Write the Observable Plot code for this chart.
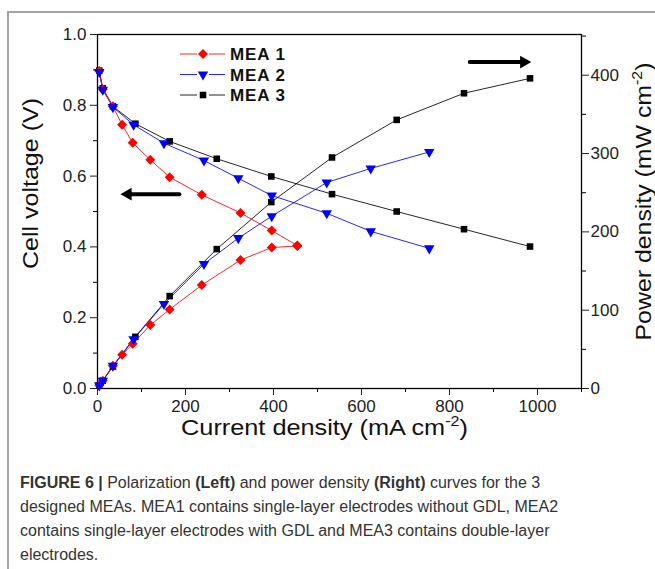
<!DOCTYPE html>
<html><head><meta charset="utf-8">
<script src="https://cdn.jsdelivr.net/npm/d3@7"></script>
<script src="https://cdn.jsdelivr.net/npm/@observablehq/plot@0.6"></script>
<style>
body{margin:0;background:#fff;font-family:"Liberation Sans",Arial,sans-serif;}
#wrap{position:relative;width:655px;height:569px;overflow:hidden;background:#fff;}
#border{position:absolute;left:7px;top:11px;width:700px;height:600px;border-left:2px solid #a3a3a3;border-top:2px solid #a3a3a3;}
#chart{position:absolute;left:0;top:0;}
#caption{position:absolute;left:20px;top:471px;font-size:16px;line-height:24px;color:#333;white-space:nowrap;}
</style></head>
<body><div id="wrap"><div id="border"></div><div id="chart"></div>
<div id="caption"><b>FIGURE 6 |</b> Polarization <b>(Left)</b> and power density <b>(Right)</b> curves for the 3<br>designed MEAs. MEA1 contains single-layer electrodes without GDL, MEA2<br>contains single-layer electrodes with GDL and MEA3 contains double-layer<br>electrodes.</div>
</div>
<script>
// ---- data ----
const series = ["MEA 1", "MEA 2", "MEA 3"];
const colors = ["#ff0000", "#0000ff", "#000000"];
const symbols = ["diamond2", "triangle", "square"];
const current1 = [4, 12, 35, 56, 80, 120, 164, 237, 325, 396, 454];
const voltage1 = [0.897, 0.845, 0.797, 0.745, 0.694, 0.646, 0.597, 0.547, 0.496, 0.446, 0.404];
const power1   = [4, 10, 29, 43, 57, 81, 101, 132, 164, 180, 182];
const current2 = [4, 12, 35, 82, 151, 242, 320, 396, 521, 621, 754];
const voltage2 = [0.894, 0.844, 0.795, 0.745, 0.693, 0.644, 0.594, 0.545, 0.495, 0.444, 0.396];
const power2   = [4, 10, 29, 63, 108, 159, 192, 220, 263, 281, 302];
const current3 = [4, 12, 35, 86, 164, 271, 395, 533, 680, 833, 983];
const voltage3 = [0.898, 0.848, 0.797, 0.748, 0.698, 0.649, 0.599, 0.549, 0.500, 0.450, 0.401];
const power3   = [4, 10, 28, 66, 118, 178, 238, 295, 343, 377, 396];
const xTicks = [0, 200, 400, 600, 800, 1000];
const xMinor = [100, 300, 500, 700, 900, 1100];
const vTicks = [0, 0.2, 0.4, 0.6, 0.8, 1.0];
const vMinor = [0.1, 0.3, 0.5, 0.7, 0.9];
const pTicks = [0, 100, 200, 300, 400];
const pMinor = [50, 150, 250, 350, 450];
const PMAX = 452;
const arrowLeft = [{tail: 186, head: 52, v: 0.549}];
const arrowRight = [{tail: 846, head: 986, v: 0.922}];
const xLabel = "Current density (mA cm-2)";
const yLabel = "Cell voltage (V)";
const y2Label = "Power density (mW cm-2)";

const cur = [current1, current2, current3], vol = [voltage1, voltage2, voltage3], pow = [power1, power2, power3];
const rows = series.map((s, i) => cur[i].map((c, j) => ({s, I: c, V: vol[i][j], P: pow[i][j]})));
const radius = [4.5, 3.9, 3.7];
const rot = [0, 180, 0];

const marks = [
  Plot.axisX(xTicks, {tickSize: 7, tickPadding: 4, fontSize: 17, tickFormat: d => String(d), label: null, color: "#222"}),
  Plot.axisX(xMinor, {tickSize: 4, tickFormat: () => "", label: null}),
  Plot.axisY(vTicks, {tickSize: 7, tickPadding: 4, fontSize: 17, tickFormat: d3.format(".1f"), label: null, color: "#222"}),
  Plot.axisY(vMinor, {tickSize: 4, tickFormat: () => "", label: null}),
  Plot.axisY(pTicks, {anchor: "right", y: d => d / PMAX, tickFormat: d => String(d), tickSize: 7, tickPadding: 2, fontSize: 17, label: null, color: "#222"}),
  Plot.axisY(pMinor, {anchor: "right", y: d => d / PMAX, tickFormat: () => "", tickSize: 4, label: null}),
  Plot.frame({stroke: "#000", strokeWidth: 1.3})
];
[2, 1, 0].forEach(i => {
  marks.push(Plot.line(rows[i], {x: "I", y: "V", stroke: colors[i], strokeWidth: 1, strokeOpacity: 0.85}));
  marks.push(Plot.line(rows[i], {x: "I", y: d => d.P / PMAX, stroke: colors[i], strokeWidth: 1, strokeOpacity: 0.85}));
});
[2, 0, 1].forEach(i => {
  marks.push(Plot.dot(rows[i], {x: "I", y: "V", symbol: symbols[i], r: radius[i], rotate: rot[i], fill: colors[i], stroke: "none"}));
  marks.push(Plot.dot(rows[i], {x: "I", y: d => d.P / PMAX, symbol: symbols[i], r: radius[i], rotate: rot[i], fill: colors[i], stroke: "none"}));
});
marks.push(
  Plot.arrow(arrowLeft, {x1: "tail", x2: "head", y1: "v", y2: "v", stroke: "#000", strokeWidth: 4, headLength: 0, insetEnd: 7}),
  Plot.dot(arrowLeft, {x: "head", y: "v", symbol: "triangle", rotate: -90, r: 4.8, fill: "#000", dx: 7.5}),
  Plot.arrow(arrowRight, {x1: "tail", x2: "head", y1: "v", y2: "v", stroke: "#000", strokeWidth: 4, headLength: 0, insetEnd: 7}),
  Plot.dot(arrowRight, {x: "head", y: "v", symbol: "triangle", rotate: 90, r: 4.8, fill: "#000", dx: -7.5}),
  Plot.text([yLabel], {text: d => d, frameAnchor: "left", textAnchor: "middle", lineAnchor: "middle", dx: -67, dy: -28, rotate: -90, fontSize: 22, fill: "#111"}),
  Plot.text([y2Label], {text: d => d, frameAnchor: "right", textAnchor: "middle", lineAnchor: "middle", dx: 62, dy: -10, rotate: -90, fontSize: 22, fill: "#111"}),
  Plot.text([xLabel], {text: d => d, frameAnchor: "bottom", textAnchor: "middle", lineAnchor: "middle", dx: -15, dy: 39, fontSize: 22, fill: "#111"})
);

const chart = Plot.plot({
  width: 655, height: 440,
  marginLeft: 97, marginRight: 74, marginTop: 34, marginBottom: 52,
  x: {domain: [0, 1100]},
  y: {domain: [0, 1]},
  style: {fontFamily: "'Liberation Sans', Arial, sans-serif", background: "transparent", overflow: "visible", color: "#000"},
  marks
});
document.getElementById("chart").appendChild(chart);

// superscripts and label lengths (stretch along the text direction)
const labelLen = {[yLabel]: 171, [xLabel]: 287, [y2Label]: 278};
chart.querySelectorAll("text").forEach(t => {
  const s = t.textContent;
  if (!(s in labelLen)) return;
  if (s.endsWith("cm-2)")) {
    t.textContent = "";
    const ns = "http://www.w3.org/2000/svg";
    const a = document.createElementNS(ns, "tspan"); a.textContent = s.slice(0, -3);
    const b = document.createElementNS(ns, "tspan"); b.textContent = "-2"; b.setAttribute("font-size", "14"); b.setAttribute("dy", "-9");
    const c = document.createElementNS(ns, "tspan"); c.textContent = ")"; c.setAttribute("dy", "9");
    t.append(a, b, c);
  }
  const len = t.getComputedTextLength();
  const sx = labelLen[s] / len;
  const tr = t.getAttribute("transform");
  if (tr) t.setAttribute("transform", `${tr} scale(${sx},1)`);
  else { t.setAttribute("textLength", labelLen[s]); t.setAttribute("lengthAdjust", "spacingAndGlyphs"); }
});

// legend
const lg = d3.select("#wrap").append("svg").attr("width", 655).attr("height", 120)
  .style("position", "absolute").style("left", "0px").style("top", "0px");
const d3sym = {diamond2: d3.symbolDiamond2, triangle: d3.symbolTriangle, square: d3.symbolSquare};
series.forEach((s, i) => {
  const y = 54 + i * 20.5;
  const g = lg.append("g");
  g.append("line").attr("x1", 180).attr("x2", 197).attr("y1", y).attr("y2", y).attr("stroke", colors[i]).attr("stroke-opacity", 0.85);
  g.append("line").attr("x1", 209).attr("x2", 225).attr("y1", y).attr("y2", y).attr("stroke", colors[i]).attr("stroke-opacity", 0.85);
  g.append("path").attr("d", d3.symbol(d3sym[symbols[i]], Math.PI * radius[i] ** 2)())
    .attr("transform", `translate(203,${y}) rotate(${rot[i]})`).attr("fill", colors[i]);
  g.append("text").attr("x", 230).attr("y", y + 6).text(s)
    .attr("font-family", "'Liberation Sans', Arial, sans-serif").attr("font-weight", "bold")
    .attr("font-size", 17).attr("letter-spacing", 0.9).attr("fill", "#111");
});
</script>
</body></html>
